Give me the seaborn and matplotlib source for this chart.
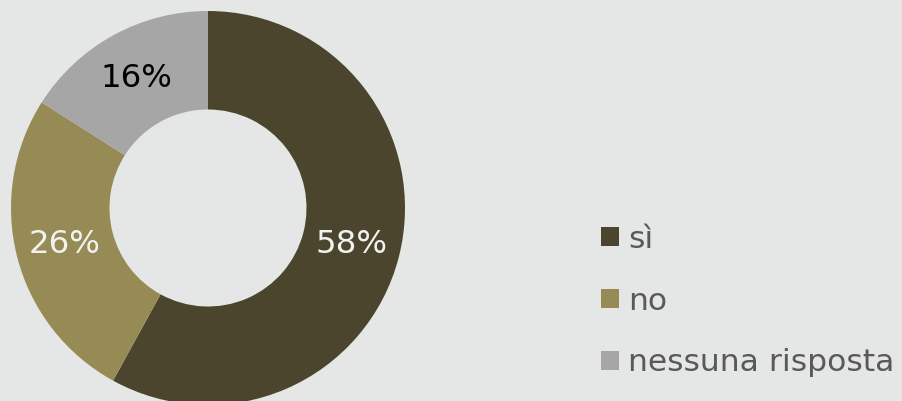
import matplotlib
matplotlib.use("Agg")
import matplotlib.pyplot as plt
from matplotlib.patches import Patch
import seaborn as sns

# data
categories = ["sì", "no", "nessuna risposta"]
shares = [58, 26, 16]
label_colors = ["#f2f2f2", "#f2f2f2", "#000000"]

sns.set_theme(style="white")
plt.rcParams["font.family"] = ["DejaVu Sans"]

palette = sns.color_palette(["#4b452d", "#968b54", "#a6a6a6"])
bg = "#e5e7e6"

W, H = 902, 401
fig = plt.figure(figsize=(W / 100, H / 100), dpi=100)
fig.patch.set_facecolor(bg)

# donut centred at (208, 208) px from top-left, outer radius 197 px
cx, cy, r = 208, 208, 197
ax = fig.add_axes([(cx - r) / W, (H - cy - r) / H, 2 * r / W, 2 * r / H])
ax.set_facecolor(bg)

wedges, texts, autotexts = ax.pie(
    shares,
    colors=palette,
    startangle=90,
    counterclock=False,
    radius=1,
    autopct="%d%%",
    pctdistance=0.75,
    wedgeprops=dict(width=0.5, edgecolor="none"),
    textprops=dict(fontsize=23.3),
)
for t, c in zip(autotexts, label_colors):
    t.set_color(c)
ax.set_xlim(-1, 1)
ax.set_ylim(-1, 1)
ax.set_aspect("equal")
ax.axis("off")

handles = [Patch(facecolor=c, edgecolor="none") for c in palette]
fig.legend(
    handles,
    categories,
    loc="center left",
    bbox_to_anchor=(601 / W, (H - 301) / H),
    frameon=False,
    fontsize=22.6,
    labelcolor="#595959",
    handlelength=0.57,
    handleheight=0.57,
    handletextpad=0.3,
    labelspacing=1.05,
    borderpad=0,
    borderaxespad=0,
)

fig.savefig("out.png", dpi=100, facecolor=bg)
